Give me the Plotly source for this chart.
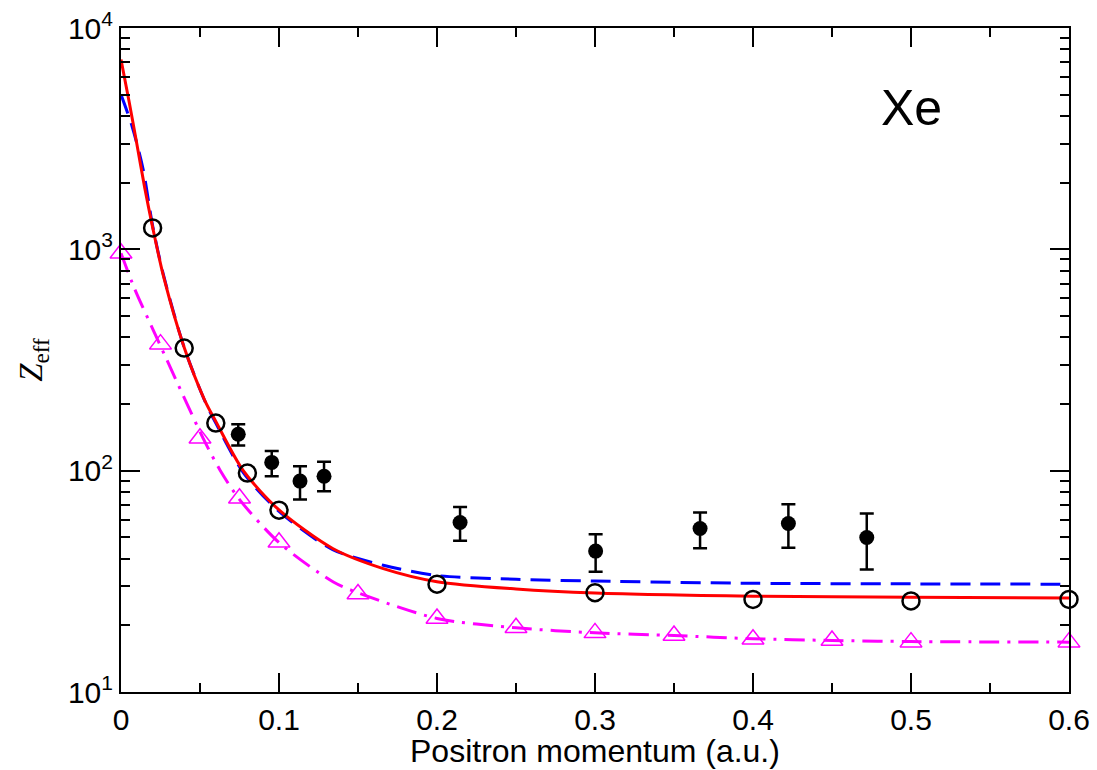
import plotly.graph_objects as go

# ---- data ----
# theory curves
red_x = [0, 0.005, 0.01, 0.015, 0.02, 0.027, 0.04, 0.053, 0.06, 0.0774, 0.1, 0.134, 0.166, 0.2, 0.25, 0.3, 0.4, 0.5, 0.6]
red_y = [7200, 4700, 3000, 1900, 1260, 750, 360, 208, 167, 100, 66.5, 44.5, 36.1, 31.5, 29.2, 28.0, 27.1, 26.8, 26.6]

blue_x = [0, 0.007, 0.014, 0.02, 0.027, 0.04, 0.053, 0.06, 0.0774, 0.1, 0.134, 0.166, 0.2, 0.25, 0.3, 0.4, 0.5, 0.6]
blue_y = [5000, 3600, 2300, 1280, 760, 360, 207, 164, 98, 65.5, 44, 37.4, 33.6, 32.3, 31.7, 31.0, 30.8, 30.7]

mag_x = [0, 0.0089, 0.0204, 0.0247, 0.052, 0.0627, 0.0753, 0.1006, 0.1344, 0.151, 0.2, 0.25, 0.3, 0.35, 0.4, 0.45, 0.5, 0.6]
mag_y = [960, 656, 432, 370, 140, 100.5, 73.6, 46.9, 31.4, 27.9, 21.5, 19.5, 18.5, 18.0, 17.4, 17.1, 16.9, 16.8]

# open circles
circ_x = [0.02, 0.04, 0.06, 0.08, 0.1, 0.2, 0.3, 0.4, 0.5, 0.6]
circ_y = [1250, 358, 164, 97.5, 66.3, 30.7, 28.1, 26.2, 25.8, 26.2]

# open triangles
tri_x = [0, 0.025, 0.05, 0.075, 0.1, 0.15, 0.2, 0.25, 0.3, 0.35, 0.4, 0.45, 0.5, 0.6]
tri_y = [960, 373, 140, 75, 47.5, 27.7, 21.5, 19.5, 18.5, 18.0, 17.3, 17.1, 16.8, 16.8]

# experiment with error bars
exp_x = [0.0742, 0.0954, 0.1133, 0.1285, 0.2146, 0.3004, 0.3665, 0.4224, 0.472]
exp_y = [146, 109, 89.7, 94.4, 58.3, 43.3, 54.8, 57.7, 49.9]
exp_top = [162, 122.6, 104.8, 109.6, 68.6, 51.6, 64.7, 70.5, 64.0]
exp_bot = [130, 94.4, 74.0, 80.8, 48.2, 34.9, 44.6, 44.8, 35.8]

x_ticks = [0, 0.1, 0.2, 0.3, 0.4, 0.5, 0.6]
x_ticktext = ["0", "0.1", "0.2", "0.3", "0.4", "0.5", "0.6"]
y_ticks = [10, 100, 1000, 10000]
y_ticktext = ["10<sup>1</sup>", "10<sup>2</sup>", "10<sup>3</sup>", "10<sup>4</sup>"]

err_plus = [t - v for t, v in zip(exp_top, exp_y)]
err_minus = [v - b for v, b in zip(exp_y, exp_bot)]

y_minor = [m * 10 ** k for k in range(1, 4) for m in range(2, 10)]
x_minor = [0.05, 0.15, 0.25, 0.35, 0.45, 0.55]

fig = go.Figure()

fig.add_trace(go.Scatter(x=mag_x, y=mag_y, mode="lines",
                         line=dict(color="#ff00ff", width=3, dash="20px,8px,3px,8px", shape="spline", smoothing=0.8),
                         showlegend=False))
fig.add_trace(go.Scatter(x=blue_x, y=blue_y, mode="lines",
                         line=dict(color="#0000ff", width=3, dash="20px,10px", shape="spline", smoothing=0.8),
                         showlegend=False))
fig.add_trace(go.Scatter(x=red_x, y=red_y, mode="lines",
                         line=dict(color="#ff0000", width=3, shape="spline", smoothing=0.8),
                         showlegend=False))
fig.add_trace(go.Scatter(x=tri_x, y=tri_y, mode="markers",
                         marker=dict(symbol="triangle-up-open", size=19, color="#ff00ff",
                                     line=dict(width=1.5, color="#ff00ff")),
                         showlegend=False, cliponaxis=False))
fig.add_trace(go.Scatter(x=circ_x, y=circ_y, mode="markers",
                         marker=dict(symbol="circle-open", size=17, color="black",
                                     line=dict(width=2.5, color="black")),
                         showlegend=False, cliponaxis=False))
fig.add_trace(go.Scatter(x=exp_x, y=exp_y, mode="markers",
                         marker=dict(symbol="circle", size=15, color="black"),
                         error_y=dict(type="data", symmetric=False, array=err_plus, arrayminus=err_minus,
                                      color="black", thickness=2.5, width=7),
                         showlegend=False))

fig.add_annotation(text="Xe", x=0.834, y=0.88, xref="paper", yref="paper", showarrow=False,
                   xanchor="center", yanchor="middle",
                   font=dict(family="Liberation Sans, Arial", size=50, color="black"))
fig.add_annotation(text="<i>Z</i><sub>eff</sub>", x=-0.093, y=0.5, xref="paper", yref="paper",
                   showarrow=False, textangle=-90, xanchor="center", yanchor="middle",
                   font=dict(family="Liberation Serif, Times New Roman", size=33, color="black"))
fig.add_annotation(text="Positron momentum (a.u.)", x=0.5, y=-0.089, xref="paper", yref="paper",
                   showarrow=False, xanchor="center", yanchor="middle",
                   font=dict(family="Liberation Sans, Arial", size=32, color="black"))

axis_font = dict(family="Liberation Sans, Arial", size=30, color="black")

fig.update_xaxes(range=[0, 0.6], tickvals=x_ticks, ticktext=x_ticktext, automargin=False,
                 ticklabeloverflow="allow",
                 ticks="inside", ticklen=19, tickwidth=1.5, tickcolor="black",
                 showline=True, linecolor="black", linewidth=2, mirror="allticks",
                 showgrid=False, zeroline=False, tickfont=axis_font,
                 minor=dict(tickvals=x_minor, ticks="inside", ticklen=9, tickwidth=1.5, tickcolor="black", showgrid=False))
fig.update_yaxes(type="log", range=[1, 4], tickvals=y_ticks, ticktext=y_ticktext, automargin=False,
                 ticklabeloverflow="allow",
                 ticks="inside", ticklen=19, tickwidth=1.5, tickcolor="black",
                 showline=True, linecolor="black", linewidth=2, mirror="allticks",
                 showgrid=False, zeroline=False, tickfont=axis_font,
                 minor=dict(tickvals=y_minor, ticks="inside", ticklen=9, tickwidth=1.5, tickcolor="black", showgrid=False))

fig.update_layout(width=1097, height=770, margin=dict(l=121, r=28, t=28, b=78, autoexpand=False),
                  plot_bgcolor="white", paper_bgcolor="white", showlegend=False)

# remove the default page body margin so the figure fills the window exactly
fig.write_html("out.html", config={"displayModeBar": False},
               post_script="document.body.style.margin='0px';document.body.style.overflow='hidden';")
